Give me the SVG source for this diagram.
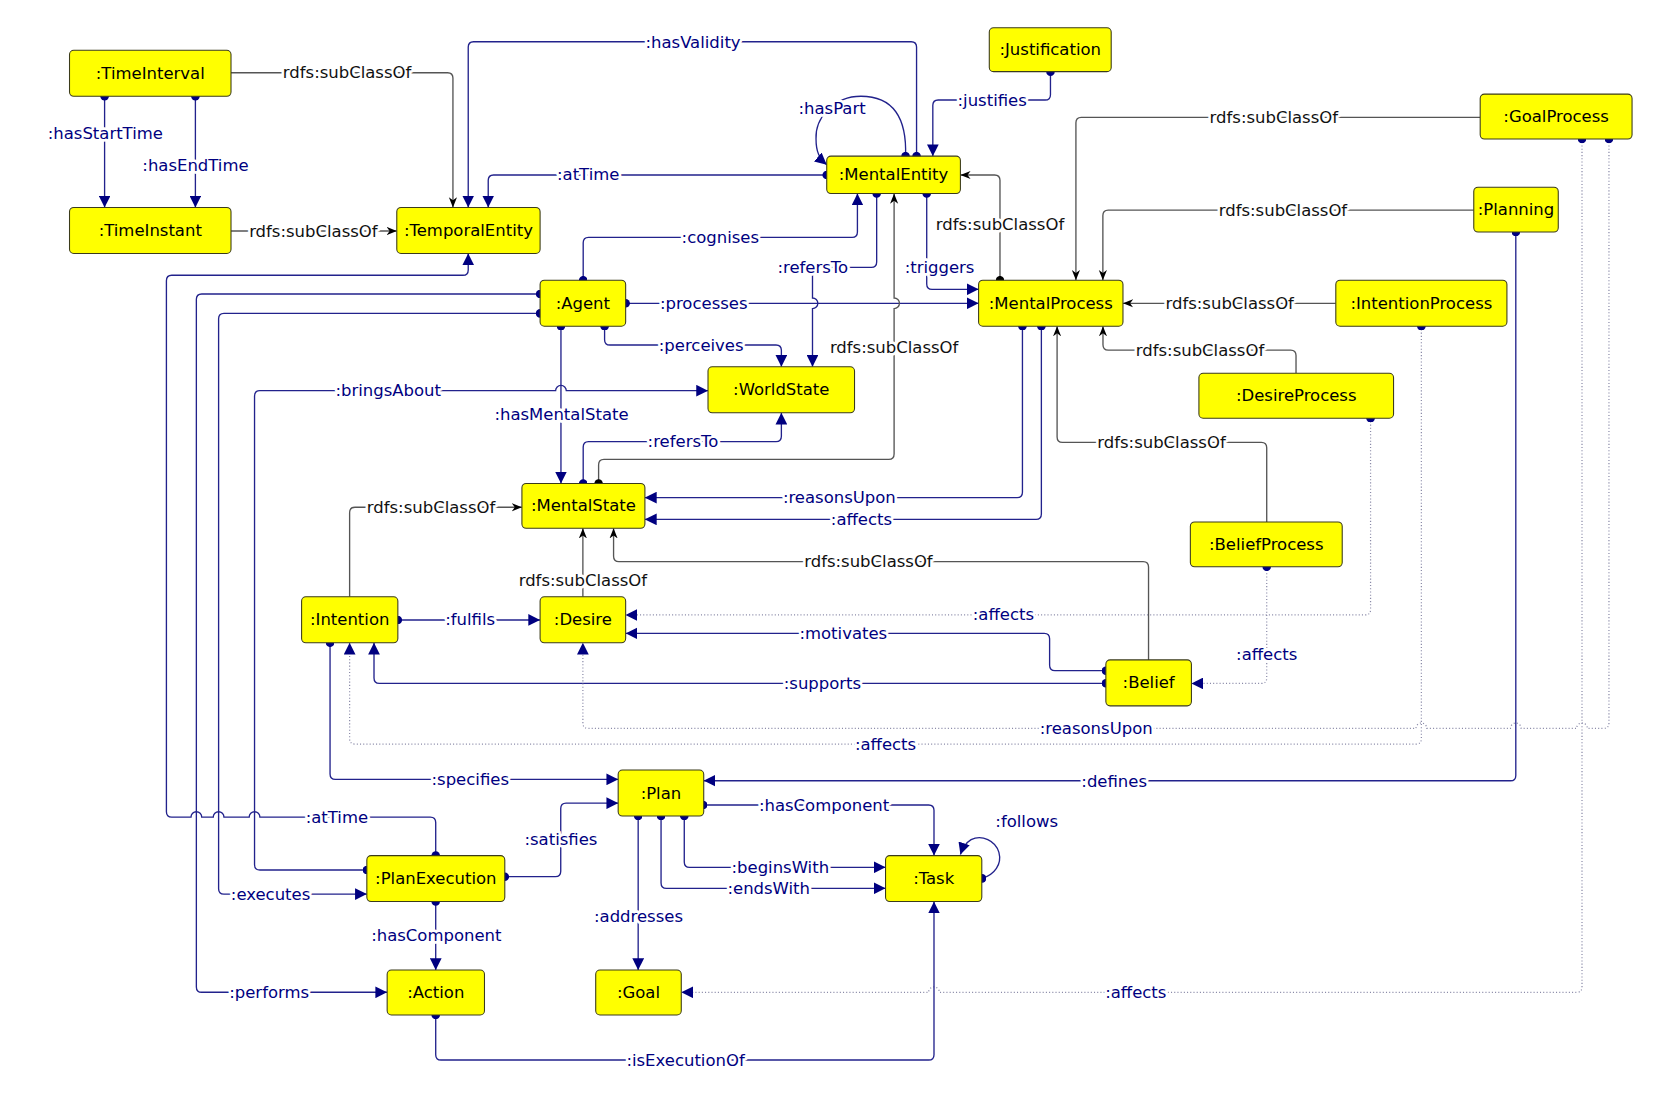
<svg xmlns="http://www.w3.org/2000/svg" width="1677" height="1096" viewBox="0 0 1677 1096">
<style>
.n rect{fill:#ffff00;stroke:#3b3b1b;stroke-width:1}
.n text{font-family:"DejaVu Sans",sans-serif;font-size:15.4px;fill:#000;text-anchor:middle;dominant-baseline:central}
.e{fill:none;stroke:#22228c;stroke-width:1.25}
.k{fill:none;stroke:#555;stroke-width:1.25}
.d{fill:none;stroke:#8a8aa8;stroke-width:1.15;stroke-dasharray:1 2}
.b,.dt{marker-start:url(#db);marker-end:url(#ab)}
.k{marker-end:url(#ak)}
.lab text{font-family:"DejaVu Sans",sans-serif;font-size:15.4px;text-anchor:middle;dominant-baseline:central;stroke:#fff;stroke-width:5px;stroke-linejoin:round;paint-order:stroke}
.lab .lb{fill:#000080}
.lab .lk{fill:#111}
</style>
<defs>
<marker id="ab" viewBox="0 0 10 10" refX="10" refY="5" markerWidth="11" markerHeight="11" markerUnits="userSpaceOnUse" orient="auto"><path d="M0,0 L10,5 L0,10 z" fill="#000080"/></marker>
<marker id="ak" viewBox="0 0 10 10" refX="10" refY="5" markerWidth="9.5" markerHeight="9.5" markerUnits="userSpaceOnUse" orient="auto"><path d="M0,1 L10,5 L0,9 L3,5 z" fill="#000"/></marker>
<marker id="db" viewBox="0 0 8 8" refX="4" refY="4" markerWidth="8" markerHeight="8" markerUnits="userSpaceOnUse"><circle cx="4" cy="4" r="4" fill="#000080"/></marker>
<marker id="dk" viewBox="0 0 8 8" refX="4" refY="4" markerWidth="8" markerHeight="8" markerUnits="userSpaceOnUse"><circle cx="4" cy="4" r="4" fill="#000"/></marker>
</defs>
<rect width="1677" height="1096" fill="#fff"/>
<g transform="scale(1.0695)">
<g id="connectors">
<path class="e b" d="M97.8,90 L97.8,194"/>
<path class="e b" d="M182.7,90 L182.7,194"/>
<path class="k" d="M216,68 L418.5,68 Q423.5,68 423.5,73 L423.5,194"/>
<path class="k" d="M216,216 L371,216"/>
<path class="e b" d="M857,146 L857,44 Q857,39 852,39 L442.8,39 Q437.8,39 437.8,44 L437.8,194"/>
<path class="e b" d="M773,163.6 L461.5,163.6 Q456.5,163.6 456.5,168.6 L456.5,194"/>
<path class="e b" d="M846.7,146 C848,110 835,90 805,90 C780,90 762,110 763,130 C763,142 766,148 773,154"/>
<path class="e b" d="M982.2,67 L982.2,88.5 Q982.2,93.5 977.2,93.5 L877.2,93.5 Q872.2,93.5 872.2,98.5 L872.2,146"/>
<path class="e b" d="M545.3,262 L545.3,226.9 Q545.3,221.9 550.3,221.9 L796.7,221.9 Q801.7,221.9 801.7,216.9 L801.7,181"/>
<path class="e b" d="M819.7,181 L819.7,245 Q819.7,250 814.7,250 L764.7,250 Q759.7,250 759.7,255 L759.7,278.6 A5,5 0 0 1 759.7,288.6 L759.7,343"/>
<path class="e b" d="M866.5,181 L866.5,265.5 Q866.5,270.5 871.5,270.5 L915,270.5"/>
<path class="e b" d="M585,283.6 L915,283.6"/>
<path class="k" style="marker-start:url(#dk)" d="M935,262 L935,168.6 Q935,163.6 930,163.6 L898,163.6"/>
<path class="k" d="M1384,109.7 L1011,109.7 Q1006,109.7 1006,114.7 L1006,262"/>
<path class="k" d="M1378,196.4 L1036.2,196.4 Q1031.2,196.4 1031.2,201.4 L1031.2,262"/>
<path class="k" d="M1249,283.6 L1050,283.6"/>
<path class="k" d="M1211.8,349 L1211.8,332.3 Q1211.8,327.3 1206.8,327.3 L1036.3,327.3 Q1031.3,327.3 1031.3,322.3 L1031.3,305"/>
<path class="k" d="M1184.4,488 L1184.4,418.6 Q1184.4,413.6 1179.4,413.6 L993.4,413.6 Q988.4,413.6 988.4,408.6 L988.4,305"/>
<path class="e b" d="M565.3,305 L565.3,317.6 Q565.3,322.6 570.3,322.6 L725.6,322.6 Q730.6,322.6 730.6,327.6 L730.6,343"/>
<path class="e b" d="M524.5,305 L524.5,452"/>
<path class="e b" d="M343,813.5 L243,813.5 Q238,813.5 238,808.5 L238,370.3 Q238,365.3 243,365.3 L519.5,365.3 A5,5 0 0 1 529.5,365.3 L662,365.3"/>
<path class="e b" d="M545.3,452 L545.3,418 Q545.3,413 550.3,413 L725.6,413 Q730.6,413 730.6,408 L730.6,386"/>
<path class="k" style="marker-start:url(#dk)" d="M559.7,452 L559.7,434.5 Q559.7,429.5 564.7,429.5 L831,429.5 Q836,429.5 836,424.5 L836,288.6 A5,5 0 0 0 836,278.6 L836,181"/>
<path class="e b" d="M956,305 L956,460.3 Q956,465.3 951,465.3 L603,465.3"/>
<path class="e b" d="M973.7,305 L973.7,480.6 Q973.7,485.6 968.7,485.6 L603,485.6"/>
<path class="k" d="M326.9,558 L326.9,479.3 Q326.9,474.3 331.9,474.3 L488,474.3"/>
<path class="k" d="M545,558 L545,494"/>
<path class="k" d="M1073.9,617 L1073.9,530.2 Q1073.9,525.2 1068.9,525.2 L578.7,525.2 Q573.7,525.2 573.7,520.2 L573.7,494"/>
<path class="e b" d="M372,579.7 L505,579.7"/>
<path class="d dt" d="M1281.5,391 L1281.5,570 Q1281.5,575 1276.5,575 L585,575"/>
<path class="e b" d="M1034,627.1 L986.4,627.1 Q981.4,627.1 981.4,622.1 L981.4,597.2 Q981.4,592.2 976.4,592.2 L585,592.2"/>
<path class="e b" d="M1034,638.9 L354.7,638.9 Q349.7,638.9 349.7,633.9 L349.7,601"/>
<path class="d dt" d="M1184.4,530 L1184.4,634 Q1184.4,639 1179.4,639 L1114,639"/>
<path class="d dt" d="M1504.4,130 L1504.4,676 Q1504.4,681 1499.4,681 L1484.2,681 A5,5 0 0 0 1474.2,681 L1422.3,681 A5,5 0 0 0 1412.3,681 L1334,681 A5,5 0 0 0 1324,681 L550,681 Q545,681 545,676 L545,601"/>
<path class="d dt" d="M1329,305 L1329,690.7 Q1329,695.7 1324,695.7 L331.9,695.7 Q326.9,695.7 326.9,690.7 L326.9,601"/>
<path class="e b" d="M1417.3,217 L1417.3,725 Q1417.3,730 1412.3,730 L658,730"/>
<path class="d dt" d="M1479.2,130 L1479.2,922.8 Q1479.2,927.8 1474.2,927.8 L878.3,927.8 A5,5 0 0 0 868.3,927.8 L637,927.8"/>
<path class="e b" d="M308.6,601 L308.6,723.7 Q308.6,728.7 313.6,728.7 L578,728.7"/>
<path class="e b" d="M407.4,800 L407.4,769 Q407.4,764 402.4,764 L243,764 A5,5 0 0 0 233,764 L209.4,764 A5,5 0 0 0 199.4,764 L188.6,764 A5,5 0 0 0 178.6,764 L160.6,764 Q155.6,764 155.6,759 L155.6,262.4 Q155.6,257.4 160.6,257.4 L432.8,257.4 Q437.8,257.4 437.8,252.4 L437.8,237"/>
<path class="e b" d="M505,274.9 L188.6,274.9 Q183.6,274.9 183.6,279.9 L183.6,922.8 Q183.6,927.8 188.6,927.8 L362,927.8"/>
<path class="e b" d="M505,293 L209.4,293 Q204.4,293 204.4,298 L204.4,831 Q204.4,836 209.4,836 L343,836"/>
<path class="e b" d="M472,819.7 L519.3,819.7 Q524.3,819.7 524.3,814.7 L524.3,756 Q524.3,751 529.3,751 L578,751"/>
<path class="e b" d="M407.4,843 L407.4,907"/>
<path class="e b" d="M657.5,752.7 L868.3,752.7 Q873.3,752.7 873.3,757.7 L873.3,800"/>
<path class="e b" d="M639.8,763 L639.8,806 Q639.8,811 644.8,811 L828,811"/>
<path class="e b" d="M618.1,763 L618.1,825.6 Q618.1,830.6 623.1,830.6 L828,830.6"/>
<path class="e b" d="M596.7,763 L596.7,907"/>
<path class="e b" d="M918.3,821.3 C930,818 937,808 934,797 C931,786 918,780 908,785 C903,788 900,793 898,799"/>
<path class="e b" d="M407.4,949 L407.4,986.1 Q407.4,991.1 412.4,991.1 L868.3,991.1 Q873.3,991.1 873.3,986.1 L873.3,843"/>
</g>
<g class="lab">
<text class="lb" x="98.5" y="124.7">:hasStartTime</text>
<text class="lb" x="182.8" y="155">:hasEndTime</text>
<text class="lb" x="648" y="39.5">:hasValidity</text>
<text class="lb" x="550" y="163.6">:atTime</text>
<text class="lb" x="778" y="101.9">:hasPart</text>
<text class="lb" x="927.7" y="94">:justifies</text>
<text class="lb" x="673.5" y="221.9">:cognises</text>
<text class="lb" x="760" y="250.5">:refersTo</text>
<text class="lb" x="878.5" y="250.5">:triggers</text>
<text class="lb" x="658" y="283.6">:processes</text>
<text class="lb" x="655.6" y="322.6">:perceives</text>
<text class="lb" x="363" y="365.3">:bringsAbout</text>
<text class="lb" x="525" y="387.4">:hasMentalState</text>
<text class="lb" x="638.6" y="413">:refersTo</text>
<text class="lb" x="784.8" y="465.3">:reasonsUpon</text>
<text class="lb" x="805.5" y="485.6">:affects</text>
<text class="lb" x="439.6" y="579.7">:fulfils</text>
<text class="lb" x="938.2" y="575">:affects</text>
<text class="lb" x="788.5" y="592.2">:motivates</text>
<text class="lb" x="769" y="638.9">:supports</text>
<text class="lb" x="1184.4" y="612.4">:affects</text>
<text class="lb" x="1025" y="681.5">:reasonsUpon</text>
<text class="lb" x="828" y="696.5">:affects</text>
<text class="lb" x="439.7" y="728.7">:specifies</text>
<text class="lb" x="1041.8" y="730.5">:defines</text>
<text class="lb" x="315" y="764.5">:atTime</text>
<text class="lb" x="770.5" y="752.7">:hasComponent</text>
<text class="lb" x="524.5" y="785.4">:satisfies</text>
<text class="lb" x="960" y="768.3">:follows</text>
<text class="lb" x="729.6" y="811">:beginsWith</text>
<text class="lb" x="718.8" y="830.6">:endsWith</text>
<text class="lb" x="253" y="836">:executes</text>
<text class="lb" x="408" y="874.9">:hasComponent</text>
<text class="lb" x="597" y="857">:addresses</text>
<text class="lb" x="251.7" y="927.8">:performs</text>
<text class="lb" x="1062" y="927.8">:affects</text>
<text class="lb" x="641" y="991.5">:isExecutionOf</text>
<text class="lk" x="324.5" y="68">rdfs:subClassOf</text>
<text class="lk" x="293" y="216">rdfs:subClassOf</text>
<text class="lk" x="935" y="209.5">rdfs:subClassOf</text>
<text class="lk" x="1191" y="109.7">rdfs:subClassOf</text>
<text class="lk" x="1199.6" y="196.4">rdfs:subClassOf</text>
<text class="lk" x="1149.8" y="283.6">rdfs:subClassOf</text>
<text class="lk" x="1122" y="327.3">rdfs:subClassOf</text>
<text class="lk" x="1086" y="413.6">rdfs:subClassOf</text>
<text class="lk" x="836" y="324.8">rdfs:subClassOf</text>
<text class="lk" x="403" y="474.3">rdfs:subClassOf</text>
<text class="lk" x="545" y="543">rdfs:subClassOf</text>
<text class="lk" x="812" y="525.2">rdfs:subClassOf</text>
</g>
<g id="TimeInterval" class="n"><rect x="65" y="47" width="151" height="43" rx="4"/><text x="140.5" y="68.5">:TimeInterval</text></g>
<g id="TimeInstant" class="n"><rect x="65" y="194" width="151" height="43" rx="4"/><text x="140.5" y="215.5">:TimeInstant</text></g>
<g id="TemporalEntity" class="n"><rect x="371" y="194" width="134" height="43" rx="4"/><text x="438" y="215.5">:TemporalEntity</text></g>
<g id="Justification" class="n"><rect x="925" y="26" width="114" height="41" rx="4"/><text x="982" y="46.5">:Justification</text></g>
<g id="GoalProcess" class="n"><rect x="1384" y="88" width="142" height="42" rx="4"/><text x="1455" y="109">:GoalProcess</text></g>
<g id="MentalEntity" class="n"><rect x="773" y="146" width="125" height="35" rx="4"/><text x="835.5" y="163.5">:MentalEntity</text></g>
<g id="Planning" class="n"><rect x="1378" y="175" width="79" height="42" rx="4"/><text x="1417.5" y="196">:Planning</text></g>
<g id="Agent" class="n"><rect x="505" y="262" width="80" height="43" rx="4"/><text x="545" y="283.5">:Agent</text></g>
<g id="MentalProcess" class="n"><rect x="915" y="262" width="135" height="43" rx="4"/><text x="982.5" y="283.5">:MentalProcess</text></g>
<g id="IntentionProcess" class="n"><rect x="1249" y="262" width="160" height="43" rx="4"/><text x="1329" y="283.5">:IntentionProcess</text></g>
<g id="DesireProcess" class="n"><rect x="1121" y="349" width="182" height="42" rx="4"/><text x="1212" y="370">:DesireProcess</text></g>
<g id="WorldState" class="n"><rect x="662" y="343" width="137" height="43" rx="4"/><text x="730.5" y="364.5">:WorldState</text></g>
<g id="MentalState" class="n"><rect x="488" y="452" width="115" height="42" rx="4"/><text x="545.5" y="473">:MentalState</text></g>
<g id="BeliefProcess" class="n"><rect x="1113" y="488" width="142" height="42" rx="4"/><text x="1184" y="509">:BeliefProcess</text></g>
<g id="Intention" class="n"><rect x="282" y="558" width="90" height="43" rx="4"/><text x="327" y="579.5">:Intention</text></g>
<g id="Desire" class="n"><rect x="505" y="558" width="80" height="43" rx="4"/><text x="545" y="579.5">:Desire</text></g>
<g id="Belief" class="n"><rect x="1034" y="617" width="80" height="43" rx="4"/><text x="1074" y="638.5">:Belief</text></g>
<g id="Plan" class="n"><rect x="578" y="720" width="80" height="43" rx="4"/><text x="618" y="741.5">:Plan</text></g>
<g id="Task" class="n"><rect x="828" y="800" width="90" height="43" rx="4"/><text x="873" y="821.5">:Task</text></g>
<g id="PlanExecution" class="n"><rect x="343" y="800" width="129" height="43" rx="4"/><text x="407.5" y="821.5">:PlanExecution</text></g>
<g id="Action" class="n"><rect x="362" y="907" width="91" height="42" rx="4"/><text x="407.5" y="928">:Action</text></g>
<g id="Goal" class="n"><rect x="557" y="907" width="80" height="42" rx="4"/><text x="597" y="928">:Goal</text></g>
</g>
</svg>
